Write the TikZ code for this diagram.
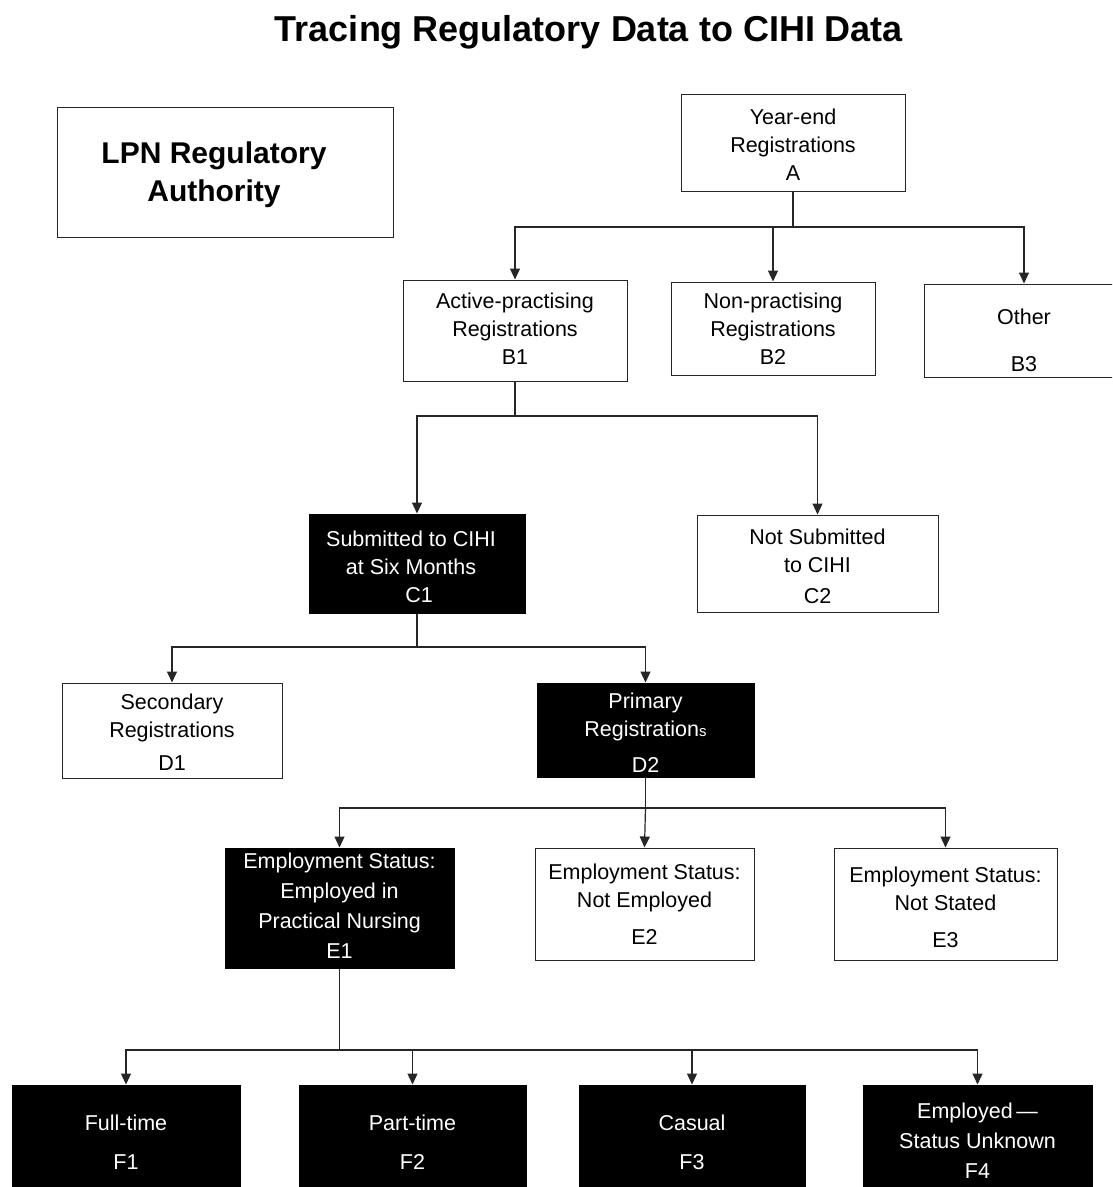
\documentclass[tikz,border=0pt]{standalone}
\usepackage{fontspec}
\setmainfont{Liberation Sans}
\usetikzlibrary{arrows.meta}
\tikzset{
  wbox/.style 2 args={draw=black!85,line width=1pt,fill=white,minimum width=#1,minimum height=#2,inner sep=0pt},
  bbox/.style 2 args={draw=black,line width=1pt,fill=black,minimum width=#1,minimum height=#2,inner sep=0pt},
  txt/.style={align=center,inner sep=0pt,font=\fontsize{21.5}{28}\selectfont},
  wtxt/.style={txt,text=white},
  conn/.style={draw=black!85,line width=1.2pt},
  arr/.style={conn,-{Triangle[width=10pt,length=11pt]}},
}
\begin{document}
\begin{tikzpicture}[x=1pt,y=-1pt]
\useasboundingbox (0,0) rectangle (1112,1187);
\clip (0,0) rectangle (1112,1187);
\fill[white] (0,0) rectangle (1112,1187);

% title
\node[font=\bfseries\fontsize{36}{40}\selectfont,inner sep=0pt] (title) at (589,32) {Tracing Regulatory Data to CIHI Data};

% LPN box
\node[wbox={336}{130}] (lpn) at (225,172) {};
\node[align=center,inner sep=0pt,font=\bfseries\fontsize{30}{38}\selectfont] (lpnt) at (214,175) {LPN Regulatory\\Authority};

% level A
\node[wbox={224}{97}] (A) at (793,142.5) {};
\node[txt] (At) at (793,145) {Year-end\\Registrations\\A};

% level B
\node[wbox={224}{101}] (B1) at (515,330.5) {};
\node[txt] (B1t) at (515,329) {Active-practising\\Registrations\\B1};
\node[wbox={204}{93}] (B2) at (773,328.5) {};
\node[txt] (B2t) at (773,329) {Non-practising\\Registrations\\B2};
\node[wbox={200}{93}] (B3) at (1024,330.5) {};
\node[txt] (B3t) at (1024,340) {Other\\[19pt]B3};

% level C
\node[bbox={216}{99}] (C1) at (417,563.5) {};
\node[wtxt] (C1t) at (411,567) {Submitted to CIHI\\at Six Months\\\hspace*{16pt}C1};
\node[wbox={241}{97}] (C2) at (817.5,563.5) {};
\node[txt] (C2t) at (817.5,566) {Not Submitted\\to CIHI\\[3pt]C2};

% level D
\node[wbox={220}{95}] (D1) at (172,730.5) {};
\node[txt] (D1t) at (172,732) {Secondary\\Registrations\\[5pt]D1};
\node[bbox={217}{94}] (D2) at (645.5,730) {};
\node[wtxt] (D2t) at (645.5,733) {Primary\\Registration{\fontsize{15}{28}\selectfont s}\\[8pt]D2};

% level E
\node[bbox={229}{120}] (E1) at (339.5,908) {};
\node[wtxt] (E1t) at (339.5,906) {Employment Status:\\[2pt]Employed in\\[2pt]Practical Nursing\\[2pt]E1};
\node[wbox={219}{112}] (E2) at (644.5,904) {};
\node[txt] (E2t) at (644.5,904) {Employment Status:\\Not Employed\\[9pt]E2};
\node[wbox={223}{112}] (E3) at (945.5,904) {};
\node[txt] (E3t) at (945.5,907) {Employment Status:\\Not Stated\\[9pt]E3};

% level F
\node[bbox={228}{110}] (F1) at (126,1140) {};
\node[wtxt] (F1t) at (126,1142) {Full-time\\[11pt]F1};
\node[bbox={227}{110}] (F2) at (412.5,1140) {};
\node[wtxt] (F2t) at (412.5,1142) {Part-time\\[11pt]F2};
\node[bbox={226}{110}] (F3) at (692,1140) {};
\node[wtxt] (F3t) at (692,1142) {Casual\\[11pt]F3};
\node[bbox={229}{110}] (F4) at (977.5,1140) {};
\node[wtxt] (F4t) at (977.5,1141) {Employed\,—\\[2pt]Status Unknown\\[2pt]F4};

% connectors
\coordinate (jA) at (793,227);
\draw[conn] (A.south) -- (jA);
\draw[arr] (jA) -| (B1.north);
\draw[arr] (jA) -| (B2.north);
\draw[arr] (jA) -| (B3.north);

\coordinate (jB) at (515,416);
\draw[conn] (B1.south) -- (jB);
\draw[arr] (jB) -| (C1.north);
\draw[arr] (jB) -| (C2.north);

\coordinate (jC) at (417,647);
\draw[conn] (C1.south) -- (jC);
\draw[arr] (jC) -| (D1.north);
\draw[arr] (jC) -| (D2.north);

\coordinate (jD) at (645.5,808);
\draw[conn] (D2.south) -- (jD);
\draw[arr] (jD) -| (E1.north);
\draw[arr] (jD) -- (E2.north);
\draw[arr] (jD) -| (E3.north);

\coordinate (jE) at (339.5,1050);
\draw[conn] (E1.south) -- (jE);
\draw[arr] (jE) -| (F1.north);
\draw[arr] (jE) -| (F2.north);
\draw[arr] (jE) -| (F3.north);
\draw[arr] (jE) -| (F4.north);
\end{tikzpicture}
\end{document}
